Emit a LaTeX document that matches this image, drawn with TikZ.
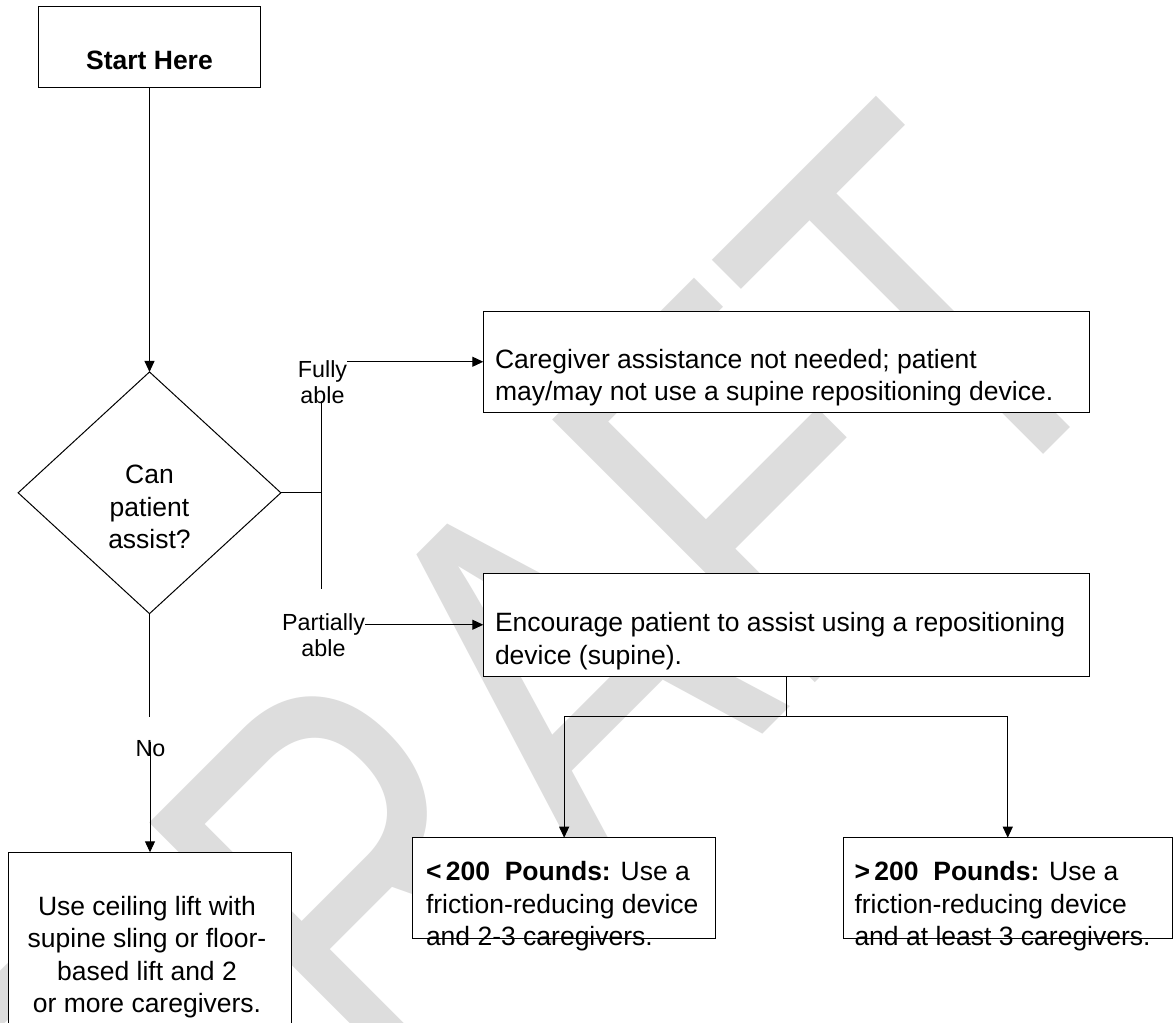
\documentclass[tikz,border=0pt]{standalone}
\usepackage{graphicx}
\usepackage{fontspec}
\setmainfont{Liberation Sans}
\usetikzlibrary{shapes.geometric,arrows.meta}
\definecolor{wmgray}{RGB}{221,221,221}
\begin{document}
\begin{tikzpicture}[x=1pt,y=-1pt,
  every node/.style={inner sep=0pt, outer sep=0pt},
  body/.style={font=\fontsize{26.5}{32.5}\selectfont},
  lbl/.style={font=\fontsize{23.3}{26.5}\selectfont, align=center, anchor=north},
  box/.style={draw, fill=white, line width=1pt, anchor=north west},
  conn/.style={line width=1pt},
  arr/.style={conn, -{Triangle[length=11pt,width=10pt]}}
]
\useasboundingbox (0,0) rectangle (1174,1022);
\clip (0,0) rectangle (1174,1022);
\fill[white] (0,0) rectangle (1174,1022);

% watermark
\node[text=wmgray, rotate=45] (wmark) at (531,704)
  {\fontsize{540}{540}\selectfont\scalebox{0.76}[1]{DRAFT}};

% boxes
\node[box, minimum width=222.4pt, minimum height=81pt]  (start) at (38.3,6.3) {};
\node[draw, fill=white, diamond, line width=1pt,
      minimum width=262.7pt, minimum height=241.7pt] (dec) at (149.5,492.8) {};
\node[box, minimum width=606pt, minimum height=100.5pt] (box1) at (483.3,311.5) {};
\node[box, minimum width=606pt, minimum height=102.5pt] (box2) at (483.3,573.5) {};
\node[box, minimum width=283.4pt, minimum height=200pt] (box3) at (8.3,852.3) {};
\node[box, minimum width=303.3pt, minimum height=101pt] (box4) at (412.5,837.7) {};
\node[box, minimum width=329.5pt, minimum height=101pt] (box5) at (843,837.7) {};

% branch labels
\node[lbl] (lFully) at (322.5,358.75) {\strut Fully\\able};
\node[lbl] (lPart)  at (323.5,611.45) {\strut Partially\\able};
\node[lbl] (lNo)    at (150.5,738.1)  {\strut No};

% connectors
\coordinate (fork)    at (321.3,492.8);
\coordinate (forkTop) at (321.3,401);
\coordinate (forkBot) at (321.3,589.3);
\coordinate (noEnd)   at (149.5,717.3);
\coordinate (noStart) at (150,741.7);
\coordinate (split)   at (786.3,716);

\draw[arr] (start.south) -- (dec.north);
\draw[conn] (dec.east) -- (fork);
\draw[conn] (forkTop) -- (forkBot);
\draw[arr] (lFully.east |- box1.west) -- (box1.west);
\draw[arr] (lPart.east |- box2.west) -- (box2.west);
\draw[conn] (dec.south) -- (noEnd);
\draw[arr] (noStart) -- (box3.north);
\draw[conn] (box2.south) -- (split);
\draw[arr] (split) -| (box4.north);
\draw[arr] (split) -| (box5.north);

% texts
\node[body, anchor=north] (tStart) at (149.5,47.25) {\strut\textbf{Start Here}};
\node[body, align=center, anchor=north] (tDec) at (149.5,460.75)
  {\strut Can\\patient\\assist?};
\node[body, align=left, anchor=north west] (t1) at (495,345.25)
  {\strut Caregiver assistance not needed; patient\\may/may not use a supine repositioning device.};
\node[body, align=left, anchor=north west] (t2) at (495,608.75)
  {\strut Encourage patient to assist using a repositioning\\device (supine).};
\node[body, align=center, anchor=north] (t3) at (147,892.25)
  {\strut Use ceiling lift with\\supine sling or floor-\\based lift and 2\\or more caregivers.};
\node[body, align=left, anchor=north west] (t4) at (426,857.75)
  {\strut\textbf{<\,200\ \ Pounds:} Use a\\friction-reducing device\\and 2-3 caregivers.};
\node[body, align=left, anchor=north west] (t5) at (854.5,857.75)
  {\strut\textbf{>\,200\ \ Pounds:} Use a\\friction-reducing device\\and at least 3 caregivers.};
\end{tikzpicture}
\end{document}
